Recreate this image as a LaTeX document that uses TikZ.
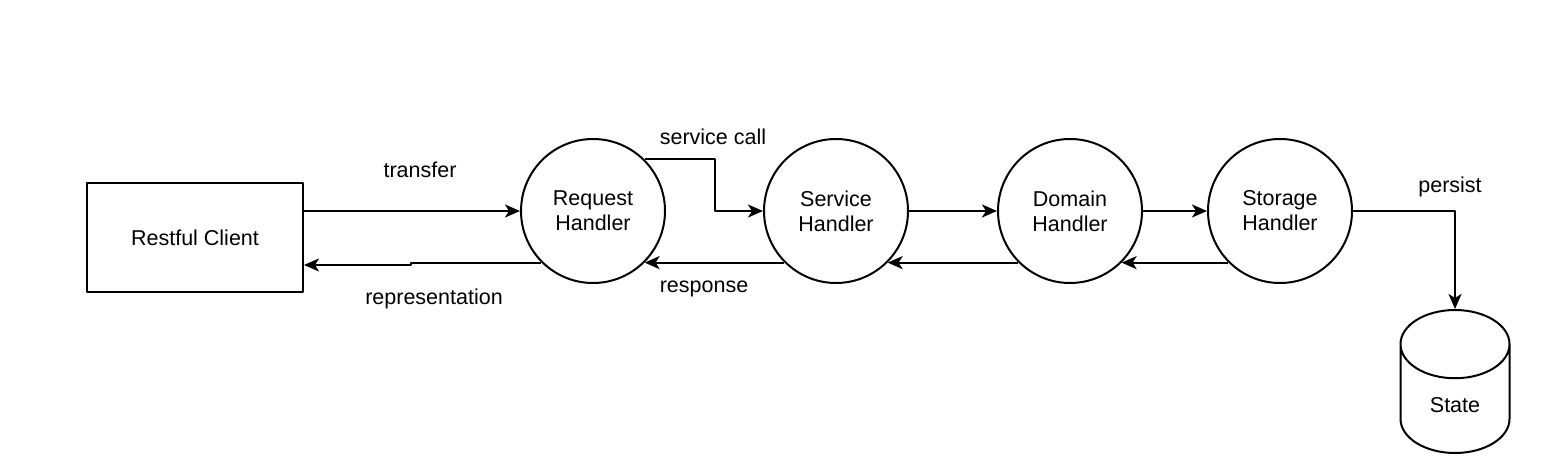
\documentclass[tikz,border=0pt]{standalone}
\usepackage{fontspec}
\setmainfont{Liberation Sans}
\usetikzlibrary{arrows.meta,shapes.geometric}
\newlength{\lw}
\setlength{\lw}{2pt}
\tikzstyle{every picture}+=[>={Stealth[length=15pt,width=13pt,inset=4pt]}]
\tikzstyle{every picture}+=[line width=\lw]
\tikzstyle{every picture}+=[x=1pt,y=-1pt]
\tikzstyle{every picture}+=[join=round]
\tikzstyle{every node}+=[font=\fontsize{21.5}{25}\selectfont, align=center]
\tikzstyle{client}+=[draw, rectangle]
\tikzstyle{client}+=[minimum width=216pt, minimum height=109pt]
\tikzstyle{handler}+=[draw, circle, inner sep=0pt]
\tikzstyle{handler}+=[minimum size=144pt]
\tikzstyle{store}+=[draw, cylinder, shape border rotate=90]
\tikzstyle{store}+=[aspect=1.2, minimum width=109pt, minimum height=143pt]
\tikzstyle{msg}+=[inner sep=0pt]

\begin{document}
\begin{tikzpicture}
\useasboundingbox (0,0) rectangle (1555,471);
\node[client] (client) at (195,237.5) {Restful Client};
\node[handler] (req) at (593,211) {Request\\Handler};
\node[handler] (svc) [right of=req, node distance=243pt] {Service\\Handler};
\node[handler] (dom) [right of=svc, node distance=234pt] {Domain\\Handler};
\node[handler] (sto) [right of=dom, node distance=210pt] {Storage\\Handler};
\node[store, anchor=shape center] (state) at (1455,381.5) {State};

\node[msg] (transfer) at (420,170) {transfer};
\node[msg] (repr) at (434,299) {representation};
\node[msg] (call) at (713,137) {service call};
\node[msg] (resp) at (704,289) {response};
\node[msg] (persist) at (1450,187) {persist};

\path[->]
  ([yshift=26.5pt]client.east) edge (req.west)
  (svc.225) edge (req.-45)
  (svc.east) edge (dom.west)
  (dom.225) edge (svc.-45)
  (dom.east) edge (sto.west)
  (sto.225) edge (dom.-45)
  ;
\draw[->] (req.225) -- ++(-130,0) |- ([yshift=-27.5pt]client.east);
\draw[->] (req.45) -- ++(70,0) |- (svc.west);
\draw[->] (sto.east) -| (state.top);
\end{tikzpicture}
\end{document}
